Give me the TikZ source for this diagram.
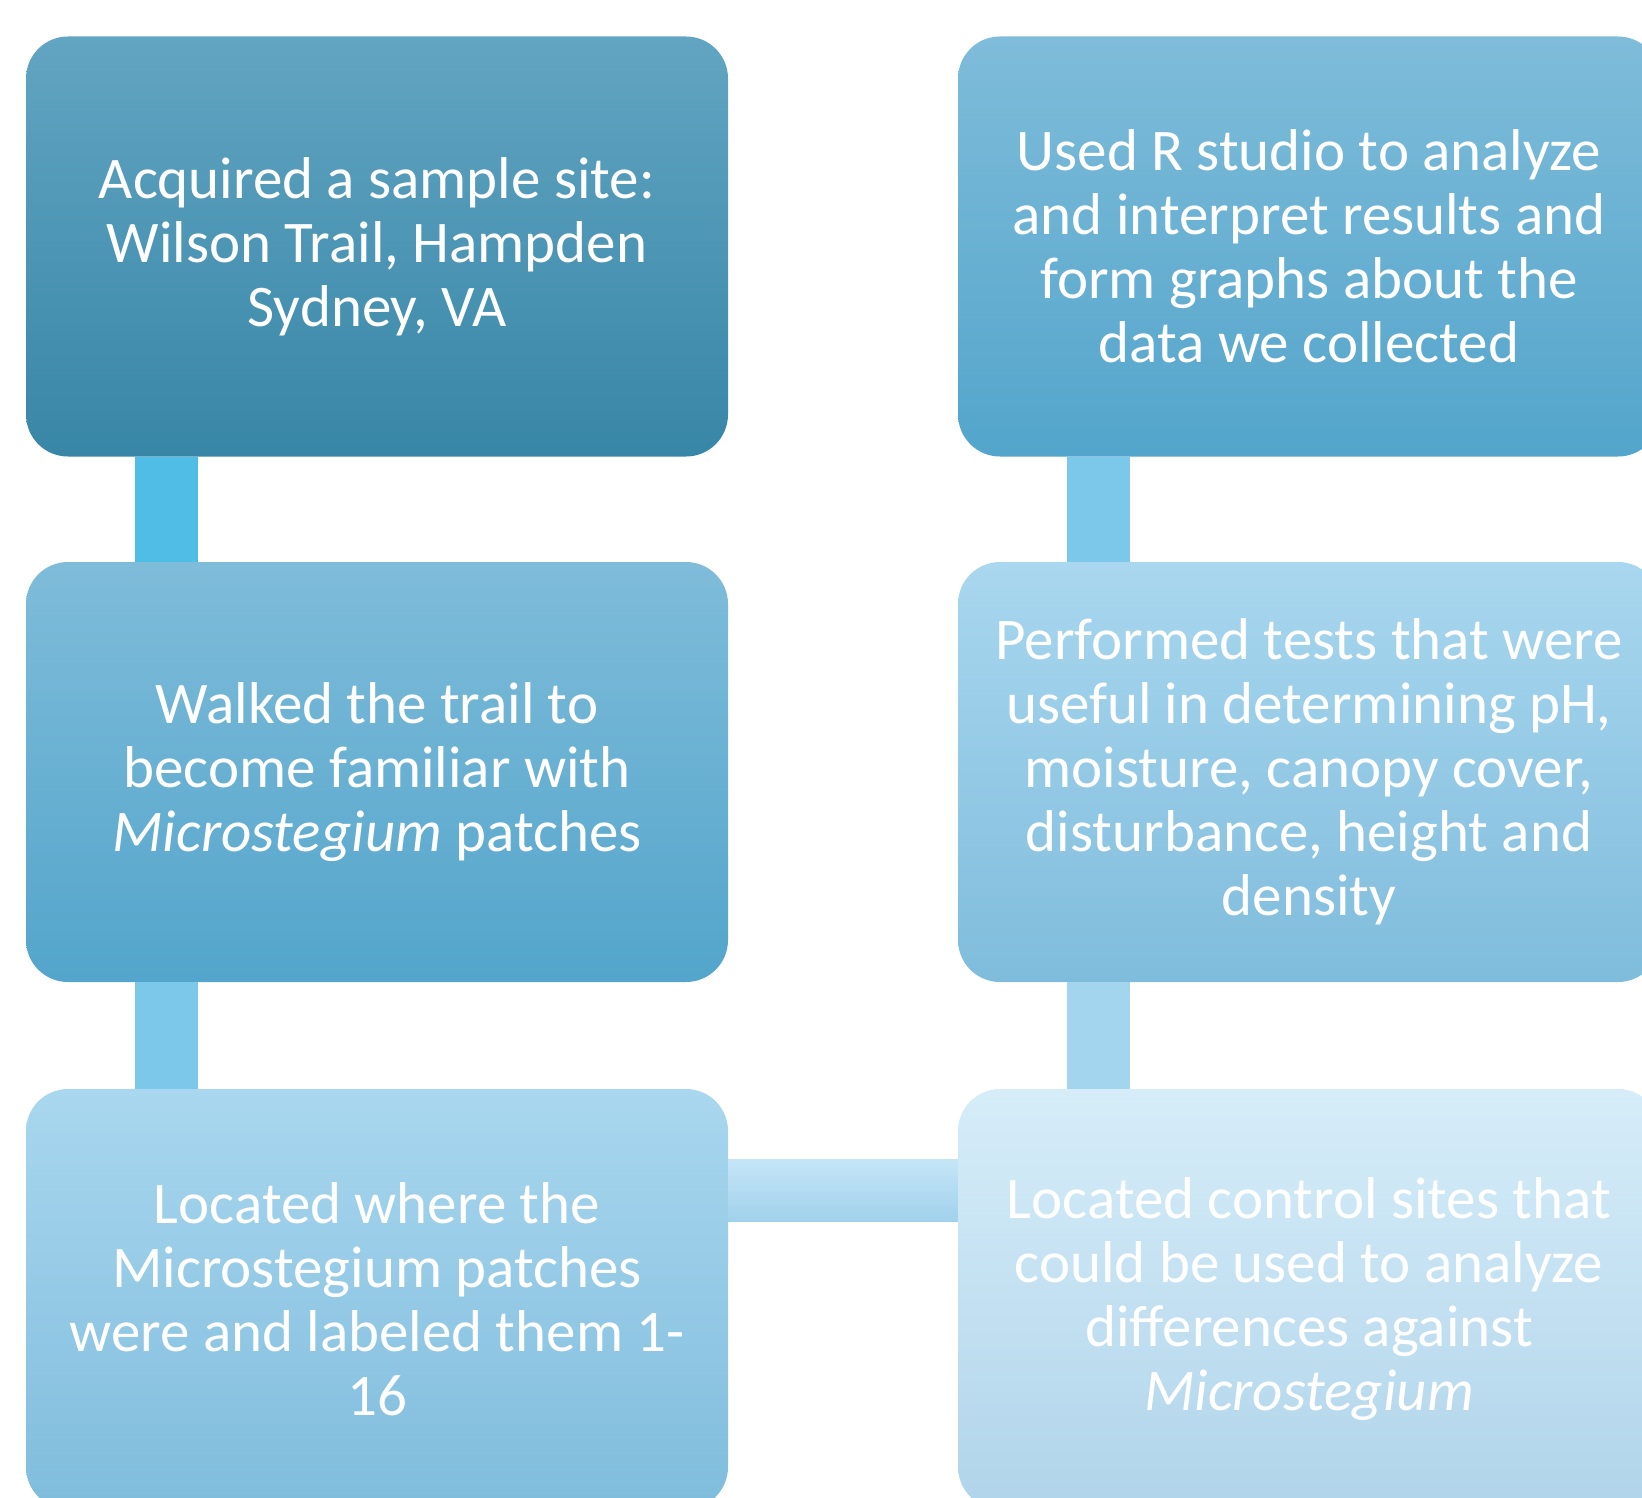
\documentclass[tikz,border=0pt]{standalone}
\usepackage{fontspec}
\setmainfont{Carlito}
\definecolor{aTop}{HTML}{62A5C2}
\definecolor{aBot}{HTML}{3886A7}
\definecolor{bTop}{HTML}{7FBCDA}
\definecolor{bBot}{HTML}{53A5CB}
\definecolor{cTop}{HTML}{A9D7EF}
\definecolor{cBot}{HTML}{7FBCDC}
\definecolor{fTop}{HTML}{D6EDF9}
\definecolor{fBot}{HTML}{B0D4EA}
\definecolor{linkA}{HTML}{4FBDE6}
\definecolor{linkB}{HTML}{7BC8EB}
\definecolor{linkC}{HTML}{A3D5EF}
\definecolor{linkHTop}{HTML}{C5E5F7}
\definecolor{linkHBot}{HTML}{A0D1EC}
\begin{document}
\begin{tikzpicture}[x=1pt,y=-1pt,
  box/.style={rounded corners=42pt, minimum width=702pt, minimum height=420pt,
    inner sep=0pt, text=white, align=center,
    font=\fontsize{59}{64}\selectfont},
  link/.style={line width=63pt}]
\useasboundingbox (0,0) rectangle (1642,1498);
\clip (0,0) rectangle (1642,1498);
\node[box, top color=aTop, bottom color=aBot] (a) at (377,246.5)
  {Acquired a sample site:\\Wilson Trail, Hampden\\Sydney, VA};
\node[box, top color=bTop, bottom color=bBot] (b) at (377,772)
  {Walked the trail to\\become familiar with\\\textit{Microstegium} patches};
\node[box, top color=cTop, bottom color=cBot] (c) at (377,1299)
  {Located where the\\Microstegium patches\\were and labeled them 1-\\16};
\node[box, top color=bTop, bottom color=bBot] (d) at (1309,246.5)
  {Used R studio to analyze\\and interpret results and\\form graphs about the\\data we collected};
\node[box, top color=cTop, bottom color=cBot] (e) at (1309,772)
  {Performed tests that were\\useful in determining pH,\\moisture, canopy cover,\\disturbance, height and\\density};
\node[box, top color=fTop, bottom color=fBot] (f) at (1309,1299)
  {Located control sites that\\could be used to analyze\\differences against\\\textit{Microstegium}};
\draw[link, linkA] ([xshift=141pt]a.south west) -- ([xshift=141pt]b.north west);
\draw[link, linkB] ([xshift=141pt]b.south west) -- ([xshift=141pt]c.north west);
\draw[link, linkB] ([xshift=141pt]d.south west) -- ([xshift=141pt]e.north west);
\draw[link, linkC] ([xshift=141pt]e.south west) -- ([xshift=141pt]f.north west);
\fill[top color=linkHTop, bottom color=linkHBot]
  ([yshift=-71pt]c.north east) rectangle ([yshift=-133pt]f.north west);
\end{tikzpicture}
\end{document}
